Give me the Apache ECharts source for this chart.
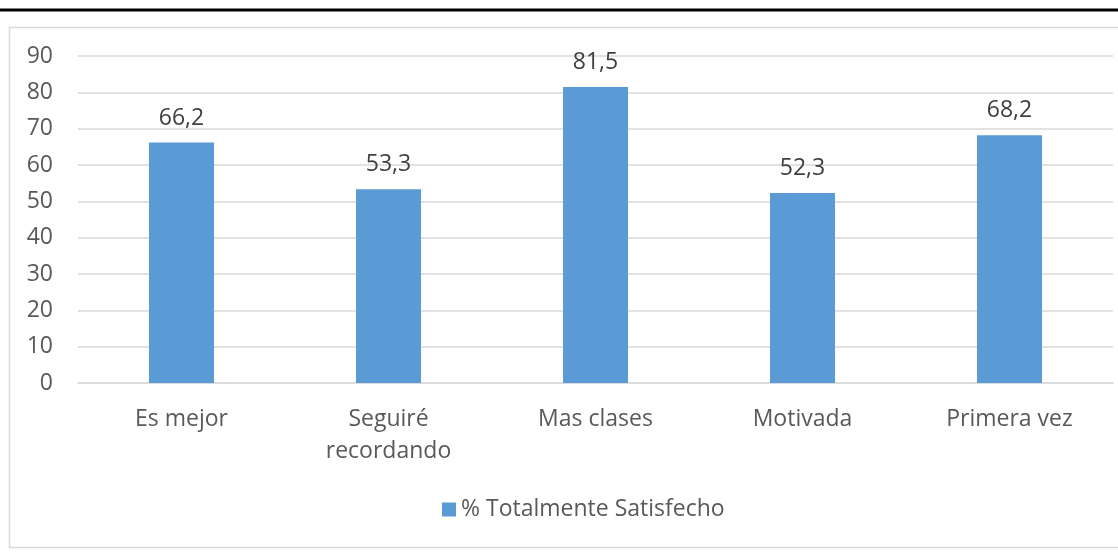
<!DOCTYPE html>
<html>
<head>
<meta charset="utf-8">
<script src="https://cdn.jsdelivr.net/npm/echarts@6/dist/echarts.min.js"></script>
<style>
html,body{margin:0;padding:0;background:#fff;}
#chart{width:1118px;height:556px;}
</style>
</head>
<body>
<div id="chart"></div>
<script>
const categories = ['Es mejor', 'Seguiré\nrecordando', 'Mas clases', 'Motivada', 'Primera vez'];
const values = [66.2, 53.3, 81.5, 52.3, 68.2];
const seriesName = '% Totalmente Satisfecho';
const yTicks = { min: 0, max: 90, interval: 10 };

const chart = echarts.init(document.getElementById('chart'));
const FONT = 'Open Sans';
const FS = 23;
chart.setOption({
  animation: false,
  textStyle: { fontFamily: FONT },
  graphic: [
    { type: 'line', shape: { x1: 0, y1: 10, x2: 1118, y2: 10 }, style: { stroke: '#000', lineWidth: 3 }, silent: true },
    { type: 'rect', shape: { x: 9.5, y: 27.5, width: 1120, height: 520 }, style: { fill: 'none', stroke: '#D9D9D9', lineWidth: 1.5 }, silent: true }
  ],
  grid: { left: 78, right: 5, top: 56, bottom: 173, containLabel: false },
  legend: {
    data: [seriesName],
    bottom: 30,
    left: 437,
    itemWidth: 14,
    itemHeight: 14,
    itemGap: 8,
    icon: 'rect',
    textStyle: { fontSize: FS, color: '#595959', fontFamily: FONT }
  },
  xAxis: {
    type: 'category',
    data: categories,
    axisLine: { show: true, lineStyle: { color: '#D9D9D9', width: 1.5 } },
    axisTick: { show: false },
    axisLabel: { fontSize: FS, color: '#595959', margin: 20, lineHeight: 32, interval: 0, fontFamily: FONT }
  },
  yAxis: {
    type: 'value',
    min: yTicks.min, max: yTicks.max, interval: yTicks.interval,
    axisLine: { show: false },
    axisTick: { show: false },
    axisLabel: { fontSize: FS, color: '#595959', margin: 25, fontFamily: FONT },
    splitLine: { lineStyle: { color: '#D9D9D9', width: 1.5 } }
  },
  series: [{
    name: seriesName,
    type: 'bar',
    data: values,
    barWidth: 65,
    itemStyle: { color: '#5B9BD5' },
    label: {
      show: true,
      position: 'top',
      distance: 13,
      fontSize: FS,
      color: '#404040',
      fontFamily: FONT,
      formatter: p => String(p.value).replace('.', ',')
    }
  }]
});
</script>
</body>
</html>
